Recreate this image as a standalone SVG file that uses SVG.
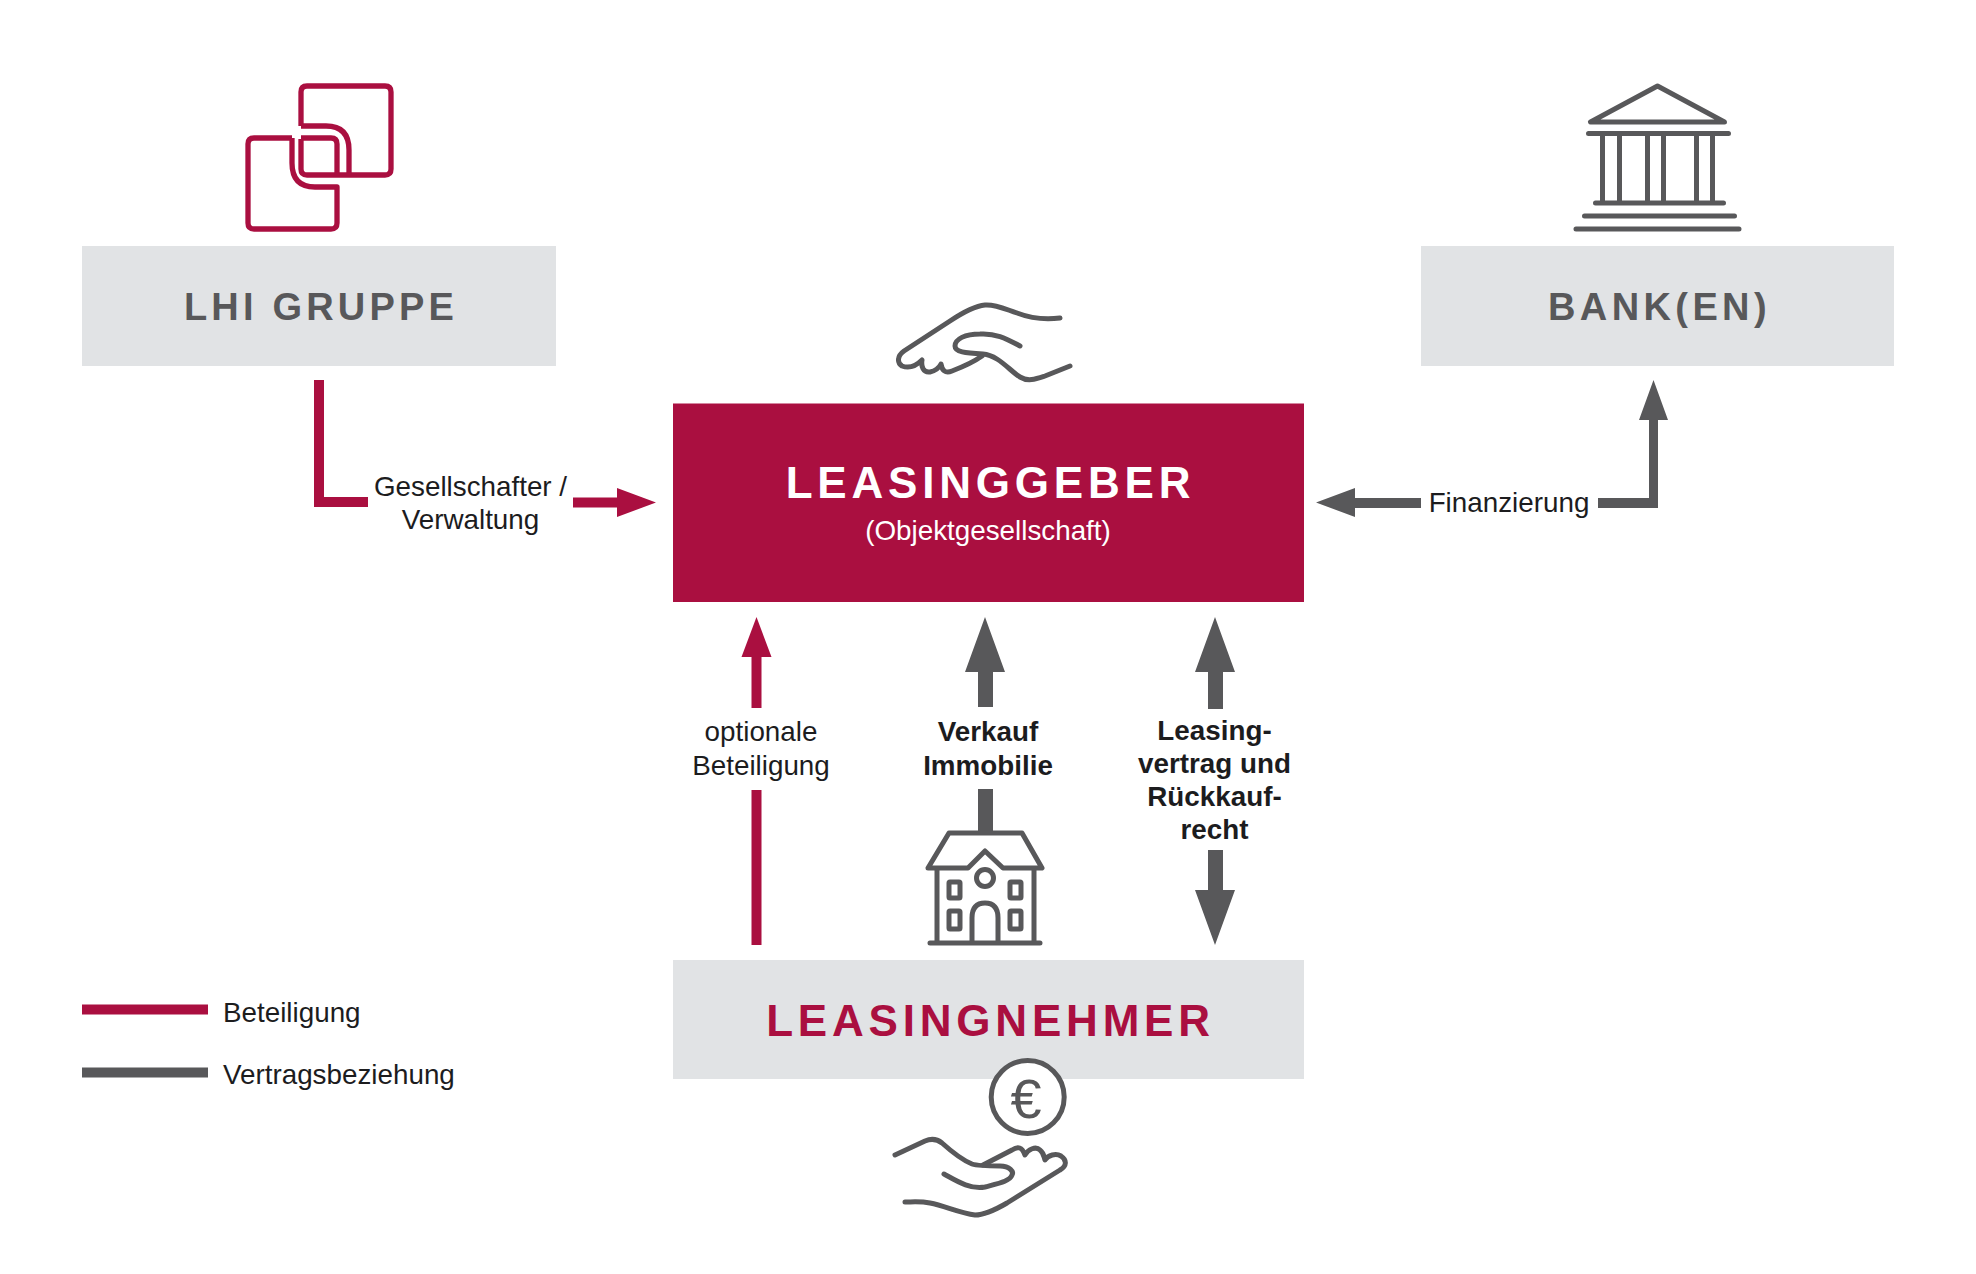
<svg xmlns="http://www.w3.org/2000/svg" width="1976" height="1274" viewBox="0 0 1976 1274">
<defs>
<style>
text{font-family:"Liberation Sans",Arial,sans-serif}
.box{fill:#e1e3e5}
.red{fill:#aa0f40}
.gry{fill:#58585a}
.icr{fill:none;stroke:#aa0f40;stroke-width:5.300;stroke-linejoin:round;stroke-linecap:butt}
.ic{fill:none;stroke:#58585a;stroke-width:5;stroke-linejoin:round;stroke-linecap:round}
.t{font-size:27.800px;fill:#1c1c1e;text-anchor:middle}
.tb{font-size:27.800px;font-weight:700;fill:#1c1c1e;text-anchor:middle}
.h{font-size:38px;font-weight:700;fill:#58585a;text-anchor:middle}
.h2{font-size:44px;font-weight:700;text-anchor:middle;letter-spacing:4.800px}
</style>
</defs>
<rect width="1976" height="1274" fill="#fff"/>
<g id="connectors">
<path class="red" d="M314 380h10v117h44v10h-54z"/>
<path class="red" d="M573 497.500h44v-9.500l39 14.500-39 14.500v-9.500h-44z"/>
<path class="gry" d="M1421 498h-66v-10l-39 14.500 39 14.500v-9h66z"/>
<path class="gry" d="M1598 498h51v-78h-10l14.500-40 14.500 40h-10v88h-60z"/>
<path class="red" d="M751.500 708v-51h-10l15-40 15 40h-10v51z"/>
<rect class="red" x="751.500" y="790" width="10" height="155"/>
<path class="gry" d="M978 707v-35h-13l20-55 20 55h-12v35z"/>
<rect class="gry" x="978" y="789" width="15" height="44"/>
<path class="gry" d="M1208 709v-37h-13l20-55 20 55h-12v37z"/>
<path class="gry" d="M1208 850h15v40h12l-20 55-20-55h13z"/>
</g>
<g id="lhi-gruppe">
<rect class="box" x="82" y="246" width="474" height="120"/>
<text class="h" x="321" y="320" letter-spacing="4.200">LHI GRUPPE</text>
<path class="icr" d="M301 126V92Q301 86 307 86H385Q391 86 391 92V169Q391 175 385 175H307Q301 175 301 169V139"/>
<path class="icr" d="M301 126H326Q349 126 349 150V175"/>
<path class="icr" d="M301 138H331Q337 138 337 144V175"/>
<path class="icr" d="M292 138H254Q248 138 248 144V223Q248 229 254 229H331Q337 229 337 223V187H315Q292 187 292 163V138"/>
</g>
<g id="bank">
<rect class="box" x="1421" y="246" width="473" height="120"/>
<text class="h" x="1659.500" y="320" letter-spacing="4.400">BANK(EN)</text>
<g transform="translate(2.500 0)">
<path class="ic" d="M1655 86L1588 122H1722Z"/>
<path class="ic" stroke-linecap="butt" d="M1586 133.500H1726M1593 203H1721M1582 216H1732M1573.500 229H1736.500M1600 134V203M1617 134V203M1645 134V203M1661 134V203M1694 134V203M1710 134V203"/>
</g>
</g>
<g id="leasinggeber">
<rect class="red" x="673" y="403.500" width="631" height="198.500"/>
<text class="h2" x="990.500" y="497.500" fill="#fff">LEASINGGEBER</text>
<text class="t" x="988" y="540" style="fill:#fff">(Objektgesellschaft)</text>
<g transform="translate(0 1)">
<path class="ic" d="M1060 317C1045 319 1030 317 1017 312C1005 308 995 303 985 304C975 305 965 310 950 320L904 350C897 355 897 362 902 365C910 368 917 364 922 359C921 365 923 372 930 371C935 370 939 367 941 363C942 369 945 373 952 370C965 365 975 360 982 355"/>
<path class="ic" d="M1020 345C1005 337 995 332 980 333C965 333 955 338 955 345C955 351 965 352 983 353C998 354 1010 370 1020 376C1028 381 1036 378 1045 375L1070 365"/>
</g>
</g>
<g id="leasingnehmer">
<rect class="box" x="673" y="960" width="631" height="119"/>
<text class="h2" x="990.500" y="1036" fill="#aa0f40">LEASINGNEHMER</text>
<circle cx="1027.700" cy="1097" r="36.500" fill="#fff" stroke="#58585a" stroke-width="5"/>
<text x="1026" y="1118" font-size="56" fill="#58585a" text-anchor="middle">€</text>
<path class="ic" d="M895 1155L925 1141C932 1138 937 1139 942 1143C952 1152 962 1160 972 1164C978 1166 985 1166 1000 1166C1010 1166 1014 1172 1012 1175C1010 1181 1000 1183 985 1187C970 1190 955 1180 944 1174"/>
<path class="ic" d="M983 1165L1012 1150C1018 1146 1022 1147 1025 1155C1028 1149 1036 1146 1040 1150C1044 1153 1044 1157 1045 1160C1048 1155 1056 1153 1061 1156C1067 1160 1067 1166 1060 1170L1007 1203C995 1210 985 1215 975 1215C960 1213 945 1206 930 1203C920 1201 912 1202 905 1202"/>
</g>
<g id="immobilie">
<path class="ic" d="M949 833H1022L1042 868H1003L985 851L968 868H928ZM937 868V943M1034 868V943M930 943H1040M972 943V918Q972 903 985 903Q998 903 998 918V943"/>
<circle class="ic" cx="985" cy="878" r="8.500"/>
<rect class="ic" x="949" y="882" width="11" height="16" rx="1"/>
<rect class="ic" x="1010" y="882" width="11" height="16" rx="1"/>
<rect class="ic" x="949" y="911" width="11" height="18" rx="1"/>
<rect class="ic" x="1010" y="911" width="11" height="18" rx="1"/>
</g>
<g id="labels">
<text class="t" x="470.500" y="496">Gesellschafter /</text>
<text class="t" x="470.500" y="529">Verwaltung</text>
<text class="t" x="1509" y="511.500">Finanzierung</text>
<text class="t" x="761" y="741">optionale</text>
<text class="t" x="761" y="775">Beteiligung</text>
<text class="tb" x="988" y="741">Verkauf</text>
<text class="tb" x="988" y="774.500">Immobilie</text>
<text class="tb" x="1214.500" y="739.500">Leasing-</text>
<text class="tb" x="1214.500" y="772.500">vertrag und</text>
<text class="tb" x="1214.500" y="806">Rückkauf-</text>
<text class="tb" x="1214.500" y="839">recht</text>
</g>
<g id="legend">
<rect class="red" x="82" y="1004.500" width="126" height="10"/>
<rect class="gry" x="82" y="1067.500" width="126" height="10"/>
<text class="t" x="223" y="1021.500" style="text-anchor:start">Beteiligung</text>
<text class="t" x="223" y="1083.500" style="text-anchor:start">Vertragsbeziehung</text>
</g>
</svg>
